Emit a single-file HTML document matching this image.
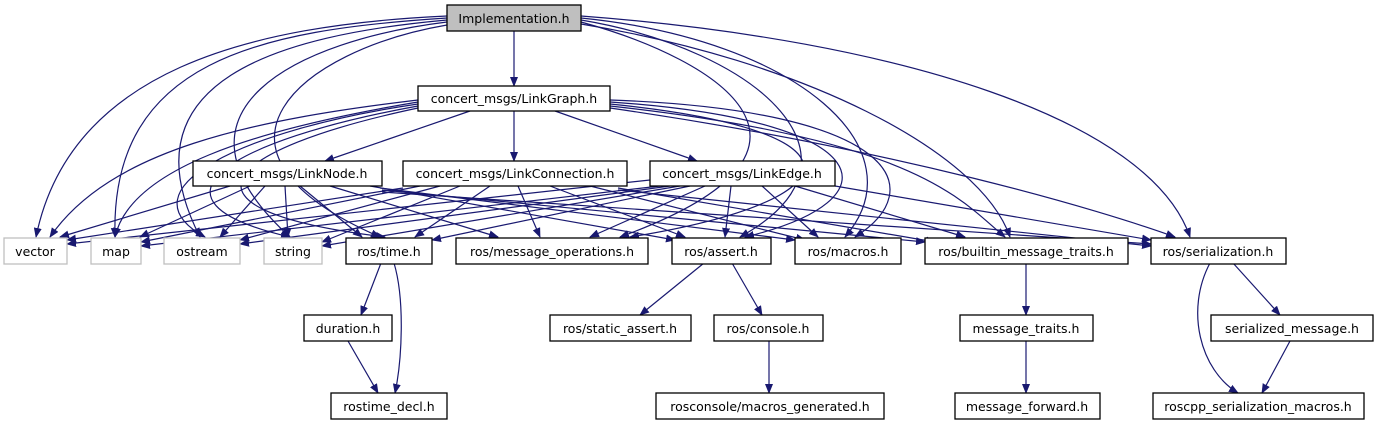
<!DOCTYPE html>
<html><head><meta charset="utf-8"><style>
html,body{margin:0;padding:0;background:#fff;}
svg{display:block}
text{font-family:"DejaVu Sans","Liberation Sans",sans-serif;font-size:12.5px;fill:#000}
.e{fill:none;stroke:#191970;stroke-width:1.2}
.b{fill:#fff;stroke:#000;stroke-width:1.3}
.g{fill:#fff;stroke:#bfbfbf;stroke-width:1.3}
</style></head><body>
<svg width="1377" height="427" viewBox="0 0 1377 427" xmlns="http://www.w3.org/2000/svg">
<defs><marker id="a" markerWidth="10" markerHeight="8" refX="9" refY="4" orient="auto" markerUnits="userSpaceOnUse"><path d="M0,0 L10,4 L0,8 z" fill="#191970"/></marker></defs>
<g class="e" marker-end="url(#a)">
<!-- Implementation -->
<path d="M514,31 L514,86"/>
<path d="M447,16 C250,25 70,70 36,237"/>
<path d="M447,18 C260,30 110,60 115,237"/>
<path d="M447,20 C280,35 120,80 200,237"/>
<path d="M447,22 C300,40 150,110 290,237"/>
<path d="M447,25 C300,50 180,150 380,237"/>
<path d="M581,22 C720,60 860,150 620,237"/>
<path d="M581,20 C760,50 880,160 740,237"/>
<path d="M581,18 C800,40 920,150 845,237"/>
<path d="M581,24 C800,60 980,150 1010,237"/>
<path d="M581,16 C900,40 1150,120 1190,237"/>
<!-- LinkGraph -->
<path d="M470,111 L325,161"/>
<path d="M514,111 L514,161"/>
<path d="M555,111 L697,161"/>
<path d="M418,100 C250,120 110,150 50,237"/>
<path d="M418,102 C250,130 130,170 115,237"/>
<path d="M418,104 C240,130 120,190 205,237"/>
<path d="M418,106 C230,140 130,200 290,237"/>
<path d="M418,108 C220,150 160,210 385,237"/>
<path d="M610,104 C870,130 860,200 630,237"/>
<path d="M610,102 C880,120 900,200 745,237"/>
<path d="M610,100 C900,110 930,190 855,237"/>
<path d="M610,106 C920,140 960,200 1005,237"/>
<path d="M610,108 C900,150 1100,210 1175,237"/>
<!-- LinkNode -->
<path d="M230,186 L60,237"/>
<path d="M250,186 L140,237"/>
<path d="M265,186 L220,237"/>
<path d="M285,186 L288,237"/>
<path d="M300,186 L362,237"/>
<path d="M330,186 L498,237"/>
<path d="M370,186 L675,240"/>
<path d="M380,188 L795,240"/>
<path d="M382,190 L925,242"/>
<path d="M382,192 L1151,244"/>
<!-- LinkConnection -->
<path d="M403,188 L67,240"/>
<path d="M420,186 L141,242"/>
<path d="M440,186 L240,240"/>
<path d="M460,186 L322,242"/>
<path d="M490,186 L415,237"/>
<path d="M518,186 L540,237"/>
<path d="M550,186 L685,237"/>
<path d="M590,186 L805,240"/>
<path d="M618,188 L935,242"/>
<path d="M618,190 L1151,246"/>
<!-- LinkEdge -->
<path d="M650,180 L67,244"/>
<path d="M660,186 L141,246"/>
<path d="M670,186 L240,244"/>
<path d="M680,186 L322,246"/>
<path d="M690,186 L432,240"/>
<path d="M705,186 L590,237"/>
<path d="M731,186 L725,237"/>
<path d="M762,186 L818,237"/>
<path d="M795,186 L965,237"/>
<path d="M835,186 L1151,240"/>
<!-- lower -->
<path d="M381,263 L361,315"/>
<path d="M394,263 C405,300 402,360 395,393"/>
<path d="M348,341 L378,393"/>
<path d="M704,263 L640,315"/>
<path d="M732,263 L762,315"/>
<path d="M769,341 L769,393"/>
<path d="M1026,263 L1026,315"/>
<path d="M1026,341 L1026,393"/>
<path d="M1210,263 C1185,310 1200,370 1238,393"/>
<path d="M1233,263 L1280,315"/>
<path d="M1290,341 L1262,393"/>
</g>
<g>
<rect x="447" y="5" width="134" height="26" fill="#bfbfbf" stroke="#000" stroke-width="1.3"/>
<text x="514" y="23" text-anchor="middle">Implementation.h</text>
<rect class="b" x="418" y="86" width="192" height="25"/><text x="514" y="103" text-anchor="middle">concert_msgs/LinkGraph.h</text>
<rect class="b" x="193" y="161" width="189" height="25"/><text x="287" y="178" text-anchor="middle">concert_msgs/LinkNode.h</text>
<rect class="b" x="403" y="161" width="224" height="25"/><text x="515" y="178" text-anchor="middle">concert_msgs/LinkConnection.h</text>
<rect class="b" x="650" y="161" width="185" height="25"/><text x="742" y="178" text-anchor="middle">concert_msgs/LinkEdge.h</text>
<rect class="g" x="4" y="238" width="63" height="26"/><text x="35" y="256" text-anchor="middle">vector</text>
<rect class="g" x="91" y="238" width="50" height="26"/><text x="116" y="256" text-anchor="middle">map</text>
<rect class="g" x="164" y="238" width="76" height="26"/><text x="202" y="256" text-anchor="middle">ostream</text>
<rect class="g" x="264" y="238" width="58" height="26"/><text x="293" y="256" text-anchor="middle">string</text>
<rect class="b" x="346" y="238" width="86" height="26"/><text x="389" y="256" text-anchor="middle">ros/time.h</text>
<rect class="b" x="456" y="238" width="192" height="26"/><text x="552" y="256" text-anchor="middle">ros/message_operations.h</text>
<rect class="b" x="672" y="238" width="99" height="26"/><text x="721" y="256" text-anchor="middle">ros/assert.h</text>
<rect class="b" x="795" y="238" width="106" height="26"/><text x="848" y="256" text-anchor="middle">ros/macros.h</text>
<rect class="b" x="925" y="238" width="203" height="26"/><text x="1026" y="256" text-anchor="middle">ros/builtin_message_traits.h</text>
<rect class="b" x="1151" y="238" width="135" height="26"/><text x="1218" y="256" text-anchor="middle">ros/serialization.h</text>
<rect class="b" x="304" y="315" width="88" height="26"/><text x="348" y="333" text-anchor="middle">duration.h</text>
<rect class="b" x="331" y="393" width="116" height="26"/><text x="389" y="411" text-anchor="middle">rostime_decl.h</text>
<rect class="b" x="550" y="315" width="141" height="26"/><text x="620" y="333" text-anchor="middle">ros/static_assert.h</text>
<rect class="b" x="714" y="315" width="109" height="26"/><text x="768" y="333" text-anchor="middle">ros/console.h</text>
<rect class="b" x="656" y="393" width="228" height="26"/><text x="770" y="411" text-anchor="middle">rosconsole/macros_generated.h</text>
<rect class="b" x="960" y="315" width="133" height="26"/><text x="1026" y="333" text-anchor="middle">message_traits.h</text>
<rect class="b" x="955" y="393" width="145" height="26"/><text x="1027" y="411" text-anchor="middle">message_forward.h</text>
<rect class="b" x="1211" y="315" width="162" height="26"/><text x="1292" y="333" text-anchor="middle">serialized_message.h</text>
<rect class="b" x="1153" y="393" width="211" height="26"/><text x="1258" y="411" text-anchor="middle">roscpp_serialization_macros.h</text>
</g>
</svg>
</body></html>
